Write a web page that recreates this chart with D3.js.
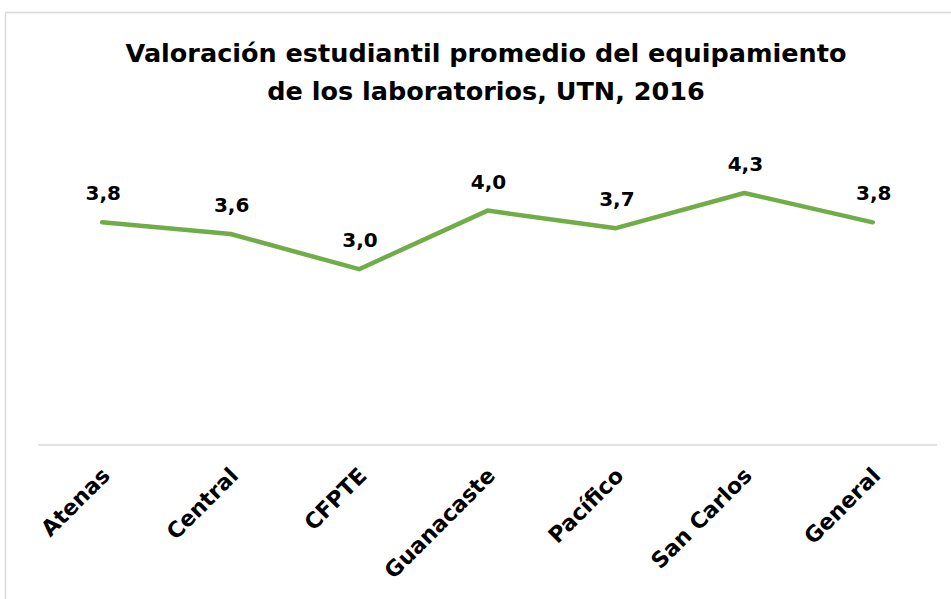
<!DOCTYPE html>
<html><head><meta charset="utf-8">
<script src="https://cdn.jsdelivr.net/npm/d3@7"></script>
<style>body{margin:0;background:#fff}svg{display:block}</style>
</head><body>
<svg id="c" width="951" height="599"></svg>
<script>
const categories = ["Atenas","Central","CFPTE","Guanacaste","Pacífico","San Carlos","General"];
const values = [3.8,3.6,3.0,4.0,3.7,4.3,3.8];
const titleLines = ["Valoración estudiantil promedio del equipamiento","de los laboratorios, UTN, 2016"];

const svg = d3.select("#c");
const font = "'DejaVu Sans',sans-serif";
svg.append("rect").attr("x",5.5).attr("y",12.5).attr("width",960).attr("height",600)
  .attr("fill","#fff").attr("stroke","#d9d9d9").attr("stroke-width",1.5);

const x = d3.scaleBand().domain(categories).range([38,937]);
const y = d3.scaleLinear().domain([0,5]).range([445,152]);

svg.append("line").attr("x1",38).attr("x2",937).attr("y1",y(0)).attr("y2",y(0))
  .attr("stroke","#d9d9d9").attr("stroke-width",1.5);

svg.selectAll("text.title").data(titleLines).join("text").attr("class","title")
  .attr("x",486).attr("y",(d,i)=>62+i*38).attr("text-anchor","middle")
  .attr("font-family",font).attr("font-weight","bold").attr("font-size",25.5).attr("fill","#000")
  .text(d=>d);

const cx = d=>x(d)+x.bandwidth()/2;
const line = d3.line().x((d,i)=>cx(categories[i])).y(d=>y(d));
svg.append("path").datum(values).attr("d",line).attr("fill","none")
  .attr("stroke","#70AD47").attr("stroke-width",4.5).attr("stroke-linecap","round").attr("stroke-linejoin","round");

const fmt = v=>d3.format(".1f")(v).replace(".",",");
svg.selectAll("text.lbl").data(values).join("text").attr("class","lbl")
  .attr("x",(d,i)=>cx(categories[i])+1).attr("y",d=>y(d)-22).attr("text-anchor","middle")
  .attr("font-family",font).attr("font-weight","bold").attr("font-size",20).attr("fill","#000")
  .text(fmt);

svg.selectAll("text.cat").data(categories).join("text").attr("class","cat")
  .attr("transform",d=>`translate(${cx(d)+9},${477}) rotate(-45)`).attr("text-anchor","end")
  .attr("font-family",font).attr("font-weight","bold").attr("font-size",22).attr("fill","#000")
  .text(d=>d);
</script>
</body></html>
